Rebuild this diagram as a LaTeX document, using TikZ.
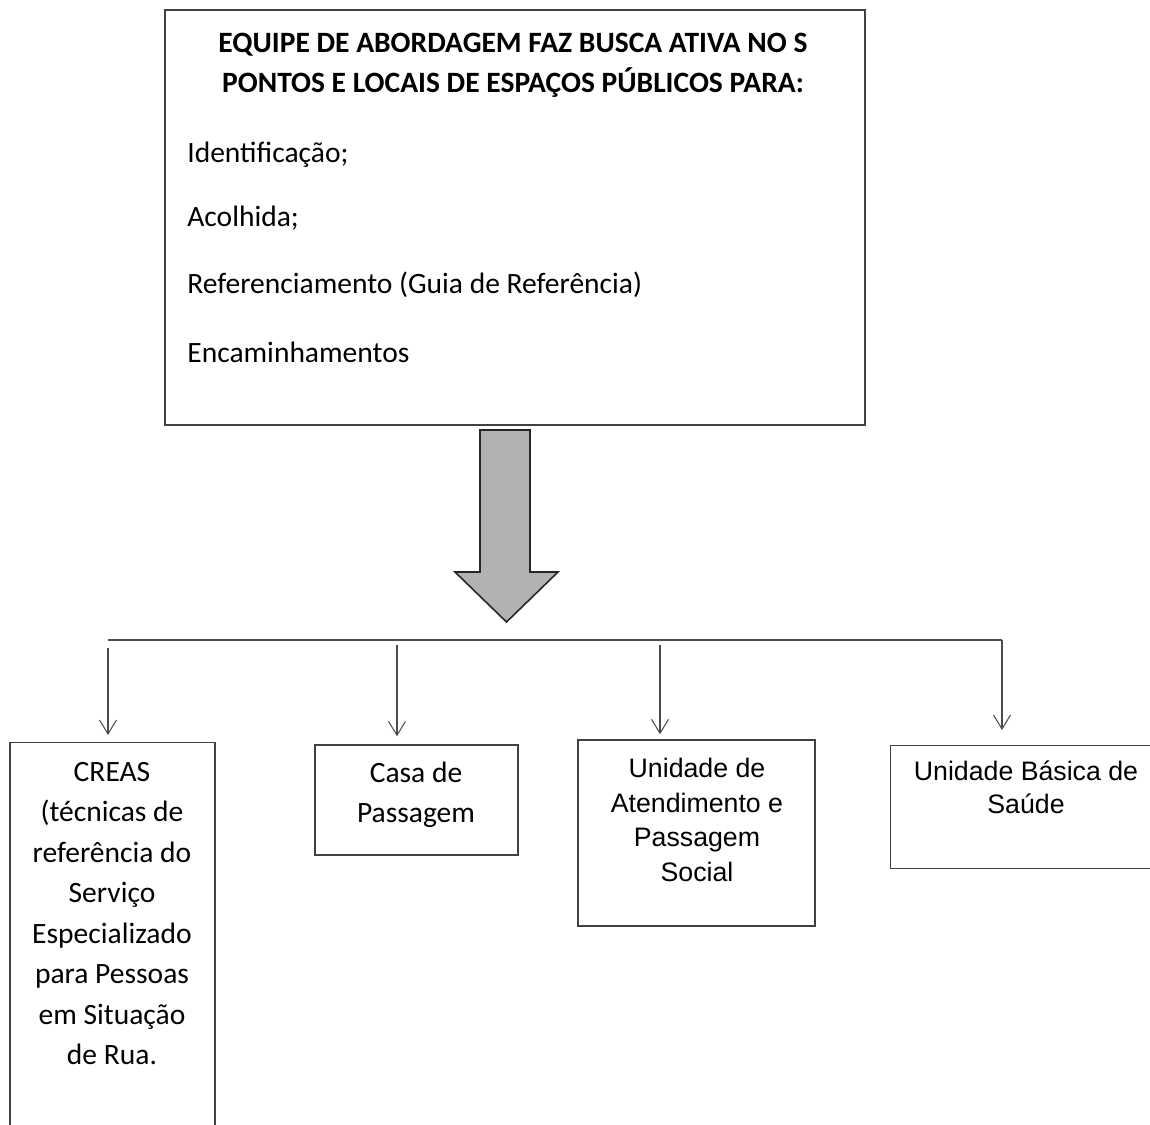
\documentclass[tikz,border=0pt]{standalone}
\usepackage{fontspec}
\setmainfont{Carlito}
\newfontfamily\arialfont{Liberation Sans}
\usetikzlibrary{arrows.meta}

\tikzset{
  caixa/.style={draw=black!75, line width=0.8pt, inner sep=0pt},
  seta/.style={draw=black!70, line width=0.6pt, -{Straight Barb[length=2.8mm,width=3.4mm]}},
  txt/.style={align=center, inner sep=0pt, font=\fontsize{16.8}{23}\selectfont},
  txtarial/.style={align=center, inner sep=0pt, font=\arialfont\fontsize{15.2}{19.7}\selectfont},
}

\begin{document}
\begin{tikzpicture}
\useasboundingbox (0,0) rectangle (23,-22.48);
% caixa de cima
\node[caixa, minimum width=14cm, minimum height=8.3cm] (busca) at (10.3,-4.35) {};
\node[txt, font=\bfseries\fontsize{16.8}{22.7}\selectfont] (titulo) at (10.26,-1.3) {EQUIPE DE ABORDAGEM FAZ BUSCA ATIVA NO S\\PONTOS E LOCAIS DE ESPAÇOS PÚBLICOS PARA:};
\node[txt, anchor=west] (item1) at (3.74,-3.1) {Identificação;};
\node[txt, anchor=west] (item2) at (3.74,-4.36) {Acolhida;};
\node[txt, anchor=west] (item3) at (3.74,-5.7) {Referenciamento (Guia de Referência)};
\node[txt, anchor=west] (item4) at (3.74,-7.04) {Encaminhamentos};
% seta grande
\draw[fill=gray!60, draw=black!85, line width=0.9pt] (9.6,-8.6) -- (10.6,-8.6) -- (10.6,-11.44) -- (11.16,-11.44) -- (10.13,-12.44) -- (9.1,-11.44) -- (9.6,-11.44) -- cycle;
% caixas de baixo
\node[caixa, minimum width=4.1cm, minimum height=8.3cm, anchor=north] (creas) at (2.25,-14.84) {};
\node[txt] (creastxt) at (2.24,-18.27) {CREAS\\(técnicas de\\referência do\\Serviço\\Especializado\\para Pessoas\\em Situação\\de Rua.};
\node[caixa, minimum width=4.06cm, minimum height=2.2cm] (casa) at (8.33,-16.0) {};
\node[txt, font=\fontsize{16.8}{22.7}\selectfont] (casatxt) at (8.32,-15.9) {Casa de\\Passagem};
\node[caixa, minimum width=4.74cm, minimum height=3.72cm] (unidade) at (13.93,-16.66) {};
\node[txtarial] (unidadetxt) at (13.94,-16.4) {Unidade de\\Atendimento e\\Passagem\\Social};
\node[caixa, minimum width=5.3cm, minimum height=2.46cm, anchor=north west] (ubs) at (17.8,-14.9) {};
\node[txtarial, font=\arialfont\fontsize{15.2}{18.7}\selectfont] (ubstxt) at (20.52,-15.75) {Unidade Básica de\\Saúde};
% ramificacao
\coordinate (r1) at (2.16,-12.8);
\coordinate (r2) at (7.94,-12.8);
\coordinate (r3) at (13.2,-12.8);
\coordinate (r4) at (20.04,-12.8);
\draw[draw=black!70, line width=0.6pt] (r1) -- (r4);
\draw[seta, shorten <=0.16cm, shorten >=0.14cm] (r1) -- (r1 |- creas.north);
\draw[seta, shorten <=0.1cm, shorten >=0.16cm] (r2) -- (r2 |- casa.north);
\draw[seta, shorten <=0.1cm, shorten >=0.1cm] (r3) -- (r3 |- unidade.north);
\draw[seta, shorten >=0.3cm] (r4) -- (r4 |- ubs.north);
\end{tikzpicture}
\end{document}
